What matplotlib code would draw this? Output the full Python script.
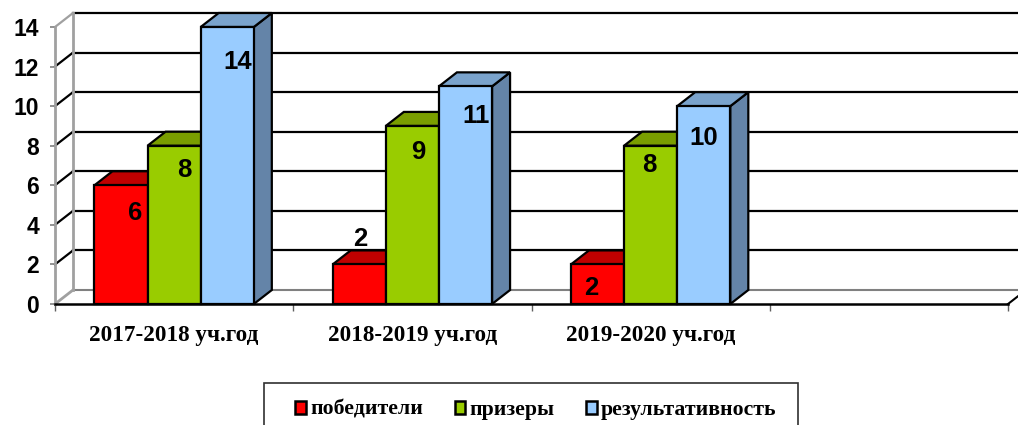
import matplotlib
matplotlib.use('Agg')
import matplotlib.pyplot as plt
from matplotlib.patches import Polygon, Rectangle
import numpy as np

years = ['2017-2018 уч.год', '2018-2019 уч.год', '2019-2020 уч.год', '']
pobediteli = [6, 2, 2]
prizery = [8, 9, 8]
result = [14, 11, 10]
y_ticks = [0, 2, 4, 6, 8, 10, 12, 14]
series_names = ['победители', 'призеры', 'результативность']

# front, top, side colours of each series
colors = [('#ff0000', '#c00000', '#c00000'),
          ('#99cc00', '#7a9e00', '#7a9e00'),
          ('#99ccff', '#7aa3cc', '#6484a8')]

W, H = 1018, 425
fig = plt.figure(figsize=(W / 100, H / 100), dpi=100)
ax = fig.add_axes([55 / W, (H - 304) / H, 953 / W, 277 / H])
ax.set_xlim(0, 4)
ax.set_ylim(0, 14)

# depth of the fake 3d, in data units
dx = 18 / (953 / 4)
dy = 14 / (277 / 14)
bar_w = 0.223


def bar3d(x, v, cols):
    ax.add_patch(Polygon([(x + bar_w, 0), (x + bar_w + dx, dy), (x + bar_w + dx, v + dy), (x + bar_w, v)],
                         fc=cols[2], ec='black', lw=1.6, clip_on=False, zorder=3))
    ax.add_patch(Polygon([(x, v), (x + dx, v + dy), (x + bar_w + dx, v + dy), (x + bar_w, v)],
                         fc=cols[1], ec='black', lw=1.6, clip_on=False, zorder=3))
    ax.add_patch(Rectangle((x, 0), bar_w, v, fc=cols[0], ec='black', lw=1.6, clip_on=False, zorder=4))


# back wall and side wall
for t in y_ticks:
    if t == 0:
        ax.plot([dx, 4 + dx], [dy, dy], color='#808080', lw=1.5, clip_on=False, zorder=1)
        ax.plot([0, dx], [0, dy], color='#a0a0a0', lw=2, clip_on=False, zorder=1)
    else:
        ax.plot([dx, 4 + dx], [t + dy, t + dy], color='black', lw=1.6, clip_on=False, zorder=1)
        ax.plot([0, dx], [t, t + dy], color='#a0a0a0' if t == 14 else 'black', lw=1.6, clip_on=False, zorder=1)
ax.plot([dx, dx], [dy, 14 + dy], color='#a0a0a0', lw=2, clip_on=False, zorder=1)
ax.plot([4, 4 + dx], [0, dy], color='black', lw=1.5, clip_on=False, zorder=1)

all_series = [pobediteli, prizery, result]
group_x = np.arange(3)
start = (1 - 3 * bar_w) / 2
for i, vals in enumerate(all_series):
    for g, v in zip(group_x, vals):
        bar3d(g + start + i * bar_w, v, colors[i])

# label offsets from the bar top centre, in pixels
label_off = [[(14, -28), (1, 25), (-6, -24)],
             [(10, -24), (6, -26), (-1, -19)],
             [(10, -35), (11, -30), (0, -32)]]
for i, vals in enumerate(all_series):
    for g, v in zip(group_x, vals):
        ax.annotate(str(v), (g + start + (i + 0.5) * bar_w, v), xytext=label_off[i][g],
                    textcoords='offset pixels', ha='center', va='center', zorder=6,
                    fontsize=18.5, fontweight='bold', family='Liberation Sans', color='black')

ax.spines['top'].set_visible(False)
ax.spines['right'].set_visible(False)
ax.spines['left'].set_color('#a0a0a0')
ax.spines['left'].set_linewidth(2)
ax.spines['bottom'].set_color('black')
ax.spines['bottom'].set_linewidth(1.8)
ax.patch.set_visible(False)

ax.set_yticks(y_ticks)
ax.set_yticklabels([str(t) for t in y_ticks], fontsize=16.5, fontweight='bold', family='Liberation Sans')
ax.tick_params(axis='y', length=3.5, width=1.2, color='#808080', pad=8)

ax.set_xticks(np.arange(5))
ax.set_xticklabels([])
ax.set_xticks(np.arange(4) + 0.5, minor=True)
ax.set_xticklabels(years, minor=True, fontsize=16.7, fontweight='bold', family='Liberation Serif')
ax.tick_params(axis='x', which='major', length=5, width=1, color='#606060')
ax.tick_params(axis='x', which='minor', length=0, pad=15)

# legend box runs off the bottom of the picture
fig.add_artist(Rectangle((264 / W, -0.05), 534 / W, (H - 383) / H + 0.05, transform=fig.transFigure,
                         fc='white', ec='#303030', lw=1.2))
handles = [Rectangle((0, 0), 1, 1, fc=colors[i][0], ec='black', lw=1.8) for i in range(3)]
leg = fig.legend(handles, series_names, loc='center', bbox_to_anchor=(536 / W, (H - 410) / H),
                 ncol=3, frameon=False, handlelength=0.48, handleheight=0.55, handletextpad=0.2,
                 columnspacing=1.45, prop={'family': 'Liberation Serif', 'weight': 'bold', 'size': 15.7})

fig.savefig('out.png', dpi=100)
